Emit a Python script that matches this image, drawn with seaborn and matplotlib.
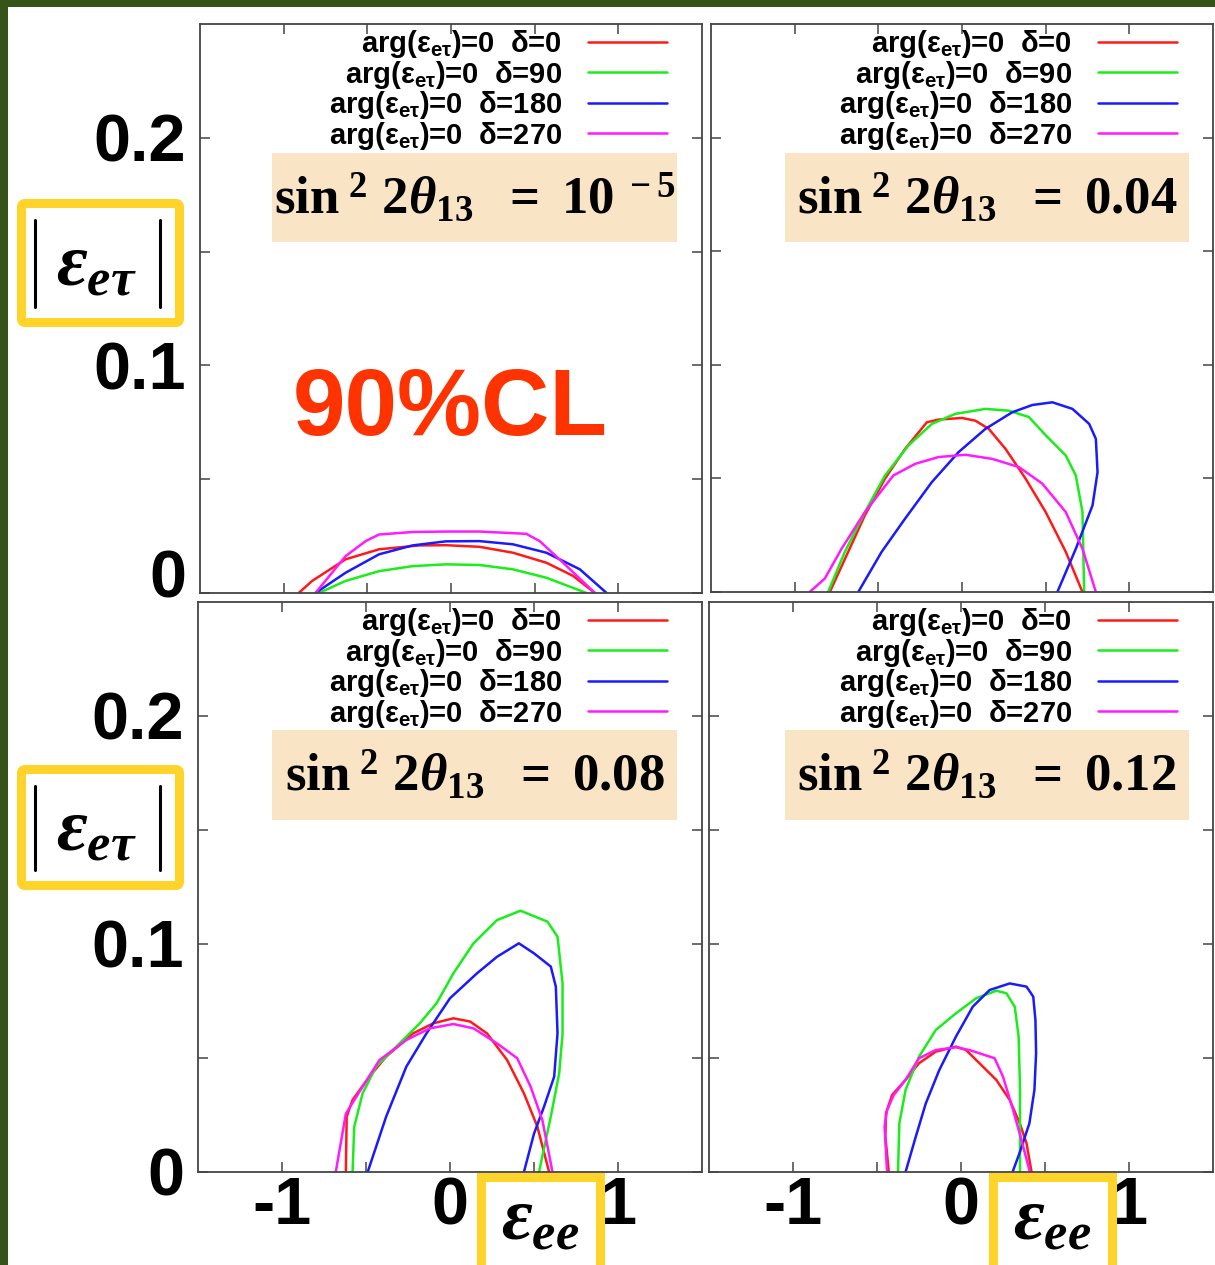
import matplotlib
matplotlib.use("Agg")
import pandas as pd
import matplotlib.pyplot as plt
import seaborn as sns
from matplotlib.patches import Rectangle, FancyBboxPatch
from matplotlib.lines import Line2D
from matplotlib.transforms import ScaledTranslation

# ---- data: (eps_ee, |eps_etau|) contour points ----
# panel 1: sin^2 2theta13 = 1e-5
p1_d0_x = [-0.91, -0.83, -0.63, -0.43, -0.19, -0.03, 0.17, 0.37, 0.57, 0.73, 0.86]
p1_d0_y = [0, 0.0053, 0.0148, 0.0192, 0.0209, 0.021, 0.0203, 0.0177, 0.0133, 0.0075, 0]
p1_d90_x = [-0.79, -0.63, -0.43, -0.23, -0.03, 0.17, 0.37, 0.57, 0.81]
p1_d90_y = [0, 0.0053, 0.0096, 0.0118, 0.0126, 0.0123, 0.0104, 0.0067, 0]
p1_d180_x = [-0.81, -0.63, -0.43, -0.23, -0.03, 0.17, 0.37, 0.57, 0.77, 0.93]
p1_d180_y = [0, 0.0089, 0.017, 0.0209, 0.0227, 0.0228, 0.0214, 0.0177, 0.0104, 0]
p1_d270_x = [-0.81, -0.63, -0.51, -0.43, -0.23, -0.03, 0.17, 0.45, 0.53, 0.67, 0.86]
p1_d270_y = [0, 0.0162, 0.0228, 0.0257, 0.0268, 0.027, 0.027, 0.026, 0.0228, 0.0133, 0]

# panel 2: sin^2 2theta13 = 0.04
p2_d0_x = [-0.79, -0.68, -0.58, -0.46, -0.34, -0.21, -0.14, 0.0, 0.08, 0.16, 0.26, 0.38, 0.50, 0.62, 0.72]
p2_d0_y = [0, 0.0177, 0.0338, 0.0499, 0.063, 0.0747, 0.0759, 0.0766, 0.0754, 0.0718, 0.063, 0.0499, 0.0352, 0.0177, 0]
p2_d90_x = [-0.80, -0.70, -0.58, -0.46, -0.32, -0.18, -0.04, 0.14, 0.28, 0.40, 0.50, 0.62, 0.68, 0.72, 0.73]
p2_d90_y = [0, 0.0177, 0.0352, 0.0513, 0.0645, 0.074, 0.0784, 0.0806, 0.0798, 0.077, 0.069, 0.0601, 0.0513, 0.0352, 0]
p2_d180_x = [-0.62, -0.48, -0.34, -0.18, -0.02, 0.14, 0.30, 0.42, 0.54, 0.66, 0.76, 0.80, 0.81, 0.78, 0.68, 0.57]
p2_d180_y = [0, 0.0177, 0.0323, 0.0484, 0.0616, 0.0718, 0.0791, 0.0823, 0.0835, 0.0806, 0.074, 0.0674, 0.0527, 0.0381, 0.019, 0]
p2_d270_x = [-0.91, -0.82, -0.72, -0.58, -0.41, -0.28, -0.14, 0.02, 0.18, 0.34, 0.48, 0.62, 0.72, 0.80]
p2_d270_y = [0, 0.0059, 0.019, 0.0352, 0.0513, 0.0564, 0.0594, 0.0604, 0.0586, 0.055, 0.0477, 0.0352, 0.019, 0]

# panel 3: sin^2 2theta13 = 0.08
p3_d0_x = [-0.62, -0.615, -0.58, -0.48, -0.38, -0.22, -0.10, 0.02, 0.12, 0.22, 0.34, 0.44, 0.52, 0.59]
p3_d0_y = [0, 0.0243, 0.0316, 0.0418, 0.0506, 0.0608, 0.0652, 0.0674, 0.066, 0.0608, 0.0491, 0.0345, 0.0199, 0]
p3_d90_x = [-0.58, -0.57, -0.52, -0.44, -0.28, -0.18, -0.08, 0.02, 0.14, 0.28, 0.42, 0.58, 0.64, 0.67, 0.67, 0.65, 0.60, 0.53]
p3_d90_y = [0, 0.0199, 0.0345, 0.0462, 0.0579, 0.0652, 0.074, 0.0871, 0.1003, 0.1105, 0.1146, 0.1098, 0.1032, 0.0827, 0.0608, 0.0433, 0.0243, 0]
p3_d180_x = [-0.49, -0.38, -0.26, -0.14, 0.0, 0.16, 0.28, 0.41, 0.50, 0.60, 0.63, 0.64, 0.62, 0.56, 0.50, 0.44]
p3_d180_y = [0, 0.0243, 0.0462, 0.0608, 0.0762, 0.0871, 0.0944, 0.1003, 0.0959, 0.0901, 0.0813, 0.0608, 0.0418, 0.0287, 0.0168, 0]
p3_d270_x = [-0.68, -0.62, -0.52, -0.42, -0.26, -0.12, 0.02, 0.14, 0.28, 0.40, 0.48, 0.55, 0.61]
p3_d270_y = [0, 0.0256, 0.0374, 0.0491, 0.0579, 0.063, 0.0649, 0.063, 0.0564, 0.0499, 0.0374, 0.0227, 0]

# panel 4: sin^2 2theta13 = 0.12
p4_d0_x = [-0.43, -0.45, -0.447, -0.41, -0.33, -0.25, -0.15, -0.03, 0.03, 0.11, 0.21, 0.29, 0.35, 0.39, 0.42]
p4_d0_y = [0, 0.0155, 0.0257, 0.0338, 0.0404, 0.0477, 0.0528, 0.055, 0.0535, 0.0477, 0.0404, 0.0316, 0.0213, 0.0126, 0]
p4_d90_x = [-0.375, -0.367, -0.33, -0.25, -0.15, -0.03, 0.09, 0.21, 0.27, 0.32, 0.343, 0.351, 0.351]
p4_d90_y = [0, 0.0213, 0.036, 0.0506, 0.0623, 0.0696, 0.0762, 0.0795, 0.0784, 0.0725, 0.0594, 0.0374, 0]
p4_d180_x = [-0.33, -0.27, -0.21, -0.13, -0.03, 0.07, 0.17, 0.29, 0.39, 0.43, 0.443, 0.447, 0.437, 0.407, 0.347, 0.307]
p4_d180_y = [0, 0.0153, 0.03, 0.0446, 0.0594, 0.0725, 0.0798, 0.0827, 0.0813, 0.0769, 0.0667, 0.0521, 0.036, 0.0213, 0.008, 0]
p4_d270_x = [-0.44, -0.455, -0.44, -0.40, -0.33, -0.25, -0.15, -0.03, 0.05, 0.20, 0.25, 0.31, 0.36, 0.41]
p4_d270_y = [0, 0.0199, 0.0272, 0.0338, 0.0404, 0.0499, 0.0535, 0.0547, 0.0535, 0.0499, 0.0418, 0.0272, 0.014, 0]

deltas = [0, 90, 180, 270]
theta_labels = [r"10^{\ -5}", "0.04", "0.08", "0.12"]
line_colors = ["#ff1a1a", "#1aee1a", "#1a1aff", "#ff1aff"]
x_ticks = [-1, 0, 1]
x_tick_labels = ["-1", "0", "1"]
y_ticks = [0, 0.1, 0.2]
y_tick_labels = ["0", "0.1", "0.2"]

panel_curves = [
    [(p1_d0_x, p1_d0_y), (p1_d90_x, p1_d90_y), (p1_d180_x, p1_d180_y), (p1_d270_x, p1_d270_y)],
    [(p2_d0_x, p2_d0_y), (p2_d90_x, p2_d90_y), (p2_d180_x, p2_d180_y), (p2_d270_x, p2_d270_y)],
    [(p3_d0_x, p3_d0_y), (p3_d90_x, p3_d90_y), (p3_d180_x, p3_d180_y), (p3_d270_x, p3_d270_y)],
    [(p4_d0_x, p4_d0_y), (p4_d90_x, p4_d90_y), (p4_d180_x, p4_d180_y), (p4_d270_x, p4_d270_y)],
]

sns.set_style("white")
plt.rcParams["font.family"] = ["Liberation Sans", "DejaVu Sans"]
plt.rcParams["text.color"] = "black"
plt.rcParams["xtick.labelcolor"] = "black"
plt.rcParams["ytick.labelcolor"] = "black"
plt.rcParams["mathtext.fontset"] = "custom"
plt.rcParams["mathtext.rm"] = "Liberation Serif:bold"
plt.rcParams["mathtext.it"] = "Liberation Serif:italic:bold"
plt.rcParams["mathtext.bf"] = "Liberation Serif:bold"
plt.rcParams["mathtext.sf"] = "Liberation Sans:bold"

W, H = 1215, 1265
fig = plt.figure(figsize=(W / 100, H / 100), dpi=100, facecolor="white")


def fx(px):
    return px / W


def fy(py):
    return 1 - py / H


# axes boxes in pixels: left, top, right, bottom
boxes = [(200, 24, 702, 593), (711, 24, 1213, 592), (198, 602, 702, 1172), (709, 602, 1213, 1172)]

legend_labels = [r"arg(ε$_{\mathsf{eτ}}$)=0  δ=%d" % d for d in deltas]

for i, (l, t, r, b) in enumerate(boxes):
    ax = fig.add_axes([fx(l), fy(b), fx(r) - fx(l), fy(t) - fy(b)])
    rows = []
    for lab, (xs, ys) in zip(legend_labels, panel_curves[i]):
        for k, (xv, yv) in enumerate(zip(xs, ys)):
            rows.append({"x": xv, "y": yv, "curve": lab, "k": k})
    df = pd.DataFrame(rows)
    sns.lineplot(data=df, x="x", y="y", hue="curve", hue_order=legend_labels,
                 palette=line_colors, sort=False, estimator=None, lw=1.8, ax=ax,
                 solid_joinstyle="round")
    ax.set_xlim(-1.5, 1.5)
    ax.set_ylim(0, 0.25)
    ax.set_xlabel("")
    ax.set_ylabel("")

    handles = ax.get_legend().legend_handles
    right_px = 667 if i % 2 == 0 else 1177
    ax.legend(handles, legend_labels, markerfirst=False, frameon=False,
              loc="upper right", bbox_to_anchor=((right_px - l) / (r - l), 0.993),
              borderaxespad=0, borderpad=0, prop={"weight": "bold", "size": 21},
              handlelength=2.7, handletextpad=0.9, labelspacing=-0.05)

    ax.set_xticks(x_ticks)
    ax.set_xticks([-0.5, 0.5], minor=True)
    ax.set_yticks(y_ticks)
    ax.set_yticks([0.05, 0.15], minor=True)
    ax.tick_params(which="both", direction="in", length=7, width=1.1, color="#444444",
                   top=True, right=True, bottom=True, left=True)
    ax.tick_params(axis="y", labelsize=48, pad=10)
    ax.tick_params(axis="x", labelsize=48, pad=3)
    if i in (0, 2):
        ax.set_yticklabels(y_tick_labels, fontweight="bold")
    else:
        ax.set_yticklabels([])
    if i in (2, 3):
        ax.set_xticklabels(x_tick_labels, fontweight="bold")
    else:
        ax.set_xticklabels([])
    if i == 0:
        lab0 = ax.get_yticklabels()[0]
        lab0.set_transform(lab0.get_transform() + ScaledTranslation(0, 0.2, fig.dpi_scale_trans))
    for sp in ax.spines.values():
        sp.set_color("#444444")
        sp.set_linewidth(1.3)

    # sin^2 2theta13 box
    bl = 272 if i % 2 == 0 else 785
    br = 677 if i % 2 == 0 else 1189
    bt = 153 if i < 2 else 730
    bb = 242 if i < 2 else 820
    ax.add_patch(Rectangle(((bl - l) / (r - l), (b - bb) / (b - t)),
                           (br - bl) / (r - l), (bb - bt) / (b - t),
                           transform=ax.transAxes, facecolor="#f9e4c6", edgecolor="none", zorder=3))
    ax.text(((bl + br) / 2 - l) / (r - l), (b - (bt + bb) / 2) / (b - t),
            r"$\mathrm{sin}^{\ 2}\ 2\theta_{13}\ \ =\ %s$" % theta_labels[i],
            transform=ax.transAxes, ha="center", va="center", fontsize=38, zorder=4)

    if i == 0:
        ax.text((450 - l) / (r - l), (b - 410) / (b - t), "90%CL", transform=ax.transAxes,
                ha="center", va="center", fontsize=68, fontweight="bold", color="#ff3300")

# yellow label boxes (y label twice, x label twice)
yellow = "#ffd42a"
for top, bot in [(199, 327), (765, 890)]:
    fig.add_artist(FancyBboxPatch((fx(21.5), fy(bot - 4.5)), fx(179.5) - fx(21.5), fy(top + 4.5) - fy(bot - 4.5),
                                  boxstyle="round,pad=0,rounding_size=0.003", transform=fig.transFigure,
                                  facecolor="white", edgecolor=yellow, linewidth=6.5, zorder=5))
    for bxp in (35, 160):
        fig.add_artist(Line2D([fx(bxp), fx(bxp)], [fy(top + 21), fy(bot - 20)], color="black",
                              lw=2.2, transform=fig.transFigure, zorder=6))
    fig.text(fx(96), fy((top + bot) / 2 + 3), r"$\varepsilon_{e\tau}$", ha="center", va="center",
             fontsize=54, zorder=6)

for left, right in [(476, 604), (989, 1116)]:
    fig.add_artist(FancyBboxPatch((fx(left + 4.5), fy(1285)), fx(right - 4.5) - fx(left + 4.5), fy(1176.5) - fy(1285),
                                  boxstyle="square,pad=0", transform=fig.transFigure,
                                  facecolor="white", edgecolor=yellow, linewidth=6.5, zorder=5))
    fig.text(fx((left + right) / 2), fy(1220), r"$\varepsilon_{ee}$", ha="center", va="center",
             fontsize=54, zorder=6)

# dark green frame on top and left
green = "#36531a"
fig.add_artist(Rectangle((0, fy(7)), 1, fy(0) - fy(7), transform=fig.transFigure,
                         facecolor=green, edgecolor="none", zorder=10))
fig.add_artist(Rectangle((0, 0), fx(8), 1, transform=fig.transFigure,
                         facecolor=green, edgecolor="none", zorder=10))

fig.savefig("out.png", dpi=100, facecolor="white")
